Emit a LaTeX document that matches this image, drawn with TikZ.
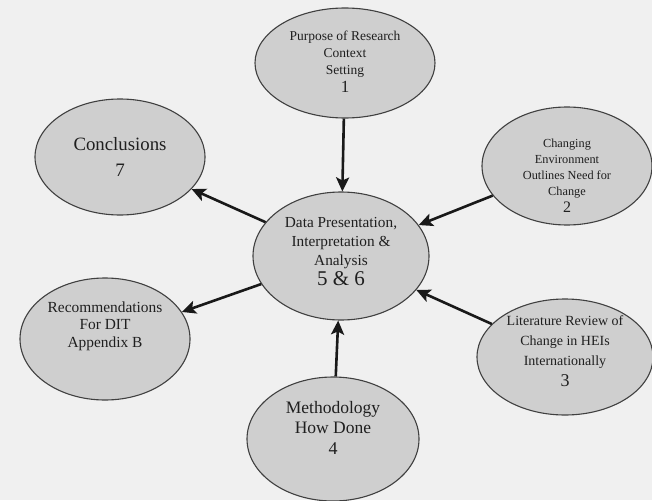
\documentclass[tikz,border=0pt]{standalone}
\usepackage{fontspec}
\setmainfont{Liberation Serif}
\usetikzlibrary{shapes.geometric,arrows.meta}

\begin{document}
\begin{tikzpicture}[x=1pt,y=-1pt,
              bubble/.style 2 args = {shape=ellipse, draw=black!75, line width=1.1pt,
                fill=black!19, inner sep=0pt, minimum width=#1, minimum height=#2},
              words/.style = {text=black!88, align=center, inner sep=0pt},
              link/.style = {line width=2.6pt, black!90,
                -{Stealth[length=14pt,width=13pt,inset=3pt]}}]
              \useasboundingbox (0,0) rectangle (652,500);
              \fill[black!6] (0,0) rectangle (652,500);
              % the ellipses
              \node[bubble={176pt}{128pt}] (core) at (341,256) {};
              \node[bubble={180pt}{110pt}] (purpose) at (345,63) {};
              \node[bubble={170pt}{118pt}] (change) at (567,166) {};
              \node[bubble={176pt}{116pt}] (review) at (565,357) {};
              \node[bubble={172pt}{124pt}] (method) at (333,439) {};
              \node[bubble={170pt}{116pt}] (concl) at (120,157) {};
              \node[bubble={170pt}{122pt}] (recom) at (105,339) {};
              % their texts
              \node[words, font=\fontsize{15.3}{19}\selectfont] (core-t) at ([yshift=4pt]core.center)
                {Data Presentation,\\Interpretation \&\\Analysis\\[1pt]
                 {\fontsize{21}{22}\selectfont 5 \& 6}};
              \node[words, font=\fontsize{13.5}{17}\selectfont] (purpose-t) at ([yshift=1pt]purpose.center)
                {Purpose of Research\\Context\\Setting\\[1pt]
                 {\fontsize{17}{18}\selectfont 1}};
              \node[words, font=\fontsize{12.3}{16}\selectfont] (change-t) at ([yshift=-10pt]change.center)
                {Changing\\Environment\\Outlines Need for\\Change\\[1pt]
                 {\fontsize{16}{18}\selectfont 2}};
              \node[words, font=\fontsize{14}{20}\selectfont] (review-t) at ([yshift=6pt]review.center)
                {Literature Review of\\Change in HEIs\\Internationally\\[1pt]
                 {\fontsize{18}{21}\selectfont 3}};
              \node[words, font=\fontsize{17.5}{20}\selectfont] (method-t) at ([yshift=11pt]method.center)
                {Methodology\\How Done\\[1pt]
                 {\fontsize{18}{21}\selectfont 4}};
              \node[words, font=\fontsize{18.8}{25}\selectfont] (concl-t) at (concl.center)
                {Conclusions\\[1pt]
                 {\fontsize{19}{24}\selectfont 7}};
              \node[words, font=\fontsize{15.4}{17.5}\selectfont] (recom-t) at ([yshift=13pt]recom.center)
                {Recommendations\\For DIT\\Appendix B};
              % arrows into the centre
              \draw[link] (purpose) -- (core);
              \draw[link] (change) -- (core);
              \draw[link] (review) -- (core);
              \draw[link] (method) -- (core);
              % arrows out of the centre
              \draw[link] (core) -- (concl);
              \draw[link] (core) -- (recom);
            \end{tikzpicture}
\end{document}
